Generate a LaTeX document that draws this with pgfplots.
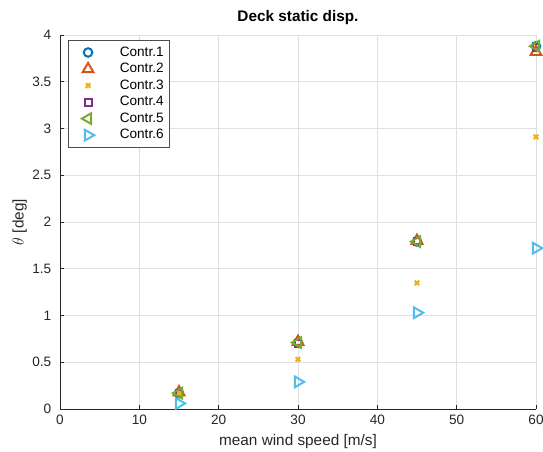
\documentclass[border=0pt]{standalone}
\usepackage{pgfplots}
\pgfplotsset{compat=1.18}
\usepackage{fontspec}
\setmainfont{Liberation Sans}
\definecolor{c1}{RGB}{0,114,189}
\definecolor{c2}{RGB}{217,83,25}
\definecolor{c3}{RGB}{237,177,32}
\definecolor{c4}{RGB}{126,47,142}
\definecolor{c5}{RGB}{119,172,48}
\definecolor{c6}{RGB}{77,190,238}
\definecolor{tk}{RGB}{38,38,38}
\begin{document}
\begin{tikzpicture}
\begin{pgfinterruptboundingbox}
\begin{axis}[
  scale only axis, width=357pt, height=280.5pt,
  xmin=0, xmax=60, ymin=0, ymax=4,
  xtick={0,10,...,60}, ytick={0,0.5,...,4},
  yticklabel style={/pgf/number format/fixed, xshift=-3pt},
  xticklabel style={yshift=-1pt},
  /pgf/number format/assume math mode=true,
  axis x line*=bottom, axis y line*=left,
  axis line style={tk, line width=0.5pt},
  tick style={tk, line width=0.5pt},
  major tick length=3pt,
  tick align=inside,
  ticklabel style={font=\fontsize{10.2}{12}\selectfont, text=tk},
  grid=major, grid style={gray!25, line width=0.5pt},
  xlabel={mean wind speed [m/s]},
  ylabel={$\theta$ [deg]},
  label style={font=\fontsize{11.5}{13}\selectfont, text=tk},
  xlabel style={at={(axis description cs:0.5,-0.0882)}, anchor=center},
  ylabel style={at={(axis description cs:-0.085,0.5)}, anchor=center},
  title={\textbf{Deck static disp.}},
  every axis title shift=0pt,
  title style={font=\fontsize{11.5}{13}\selectfont, at={(axis description cs:0.5,1.0455)}, anchor=center, yshift=0pt},
  legend style={at={(axis description cs:0.0168,0.9866)}, anchor=north west, draw=black!70, line width=0.5pt,
    font=\fontsize{10.2}{12}\selectfont, row sep=1.4pt, inner xsep=3pt, inner ysep=3.6pt,
    nodes={inner sep=1pt, text height=7.2pt, text depth=1.8pt}},
  legend cell align=left,
  legend image code/.code={\path (0,0) (33pt,0); \draw[#1] plot coordinates {(11pt,0pt)};},
  every axis plot/.append style={only marks, line width=1.5pt},
]
\addplot[c1, mark=o, mark size=3.2pt] coordinates {(15,0.17) (30,0.71) (45,1.79) (60,3.88)};
\addlegendentry{Contr.1}
\addplot[c2, mark=triangle, mark size=4.6pt] coordinates {(15,0.18) (30,0.72) (45,1.80) (60,3.82)};
\addlegendentry{Contr.2}
\addplot[c3, mark=x, mark size=2.4pt, line width=1.6pt] coordinates {(15,0.17) (30,0.53) (45,1.35) (60,2.91)};
\addlegendentry{Contr.3}
\addplot[c4, mark=square, mark size=2.6pt] coordinates {(15,0.17) (30,0.70) (45,1.79) (60,3.87)};
\addlegendentry{Contr.4}
\addplot[c5, mark=triangle, mark size=4.6pt, every mark/.append style={rotate=90}] coordinates {(15,0.17) (30,0.71) (45,1.79) (60,3.88)};
\addlegendentry{Contr.5}
\addplot[c6, mark=triangle, mark size=4.6pt, every mark/.append style={rotate=-90}] coordinates {(15,0.06) (30,0.29) (45,1.03) (60,1.72)};
\addlegendentry{Contr.6}
\end{axis}
\end{pgfinterruptboundingbox}
\useasboundingbox ([xshift=-45pt,yshift=-31.5pt]current axis.south west) rectangle ([xshift=5.25pt,yshift=26.25pt]current axis.north east);
\end{tikzpicture}
\end{document}
